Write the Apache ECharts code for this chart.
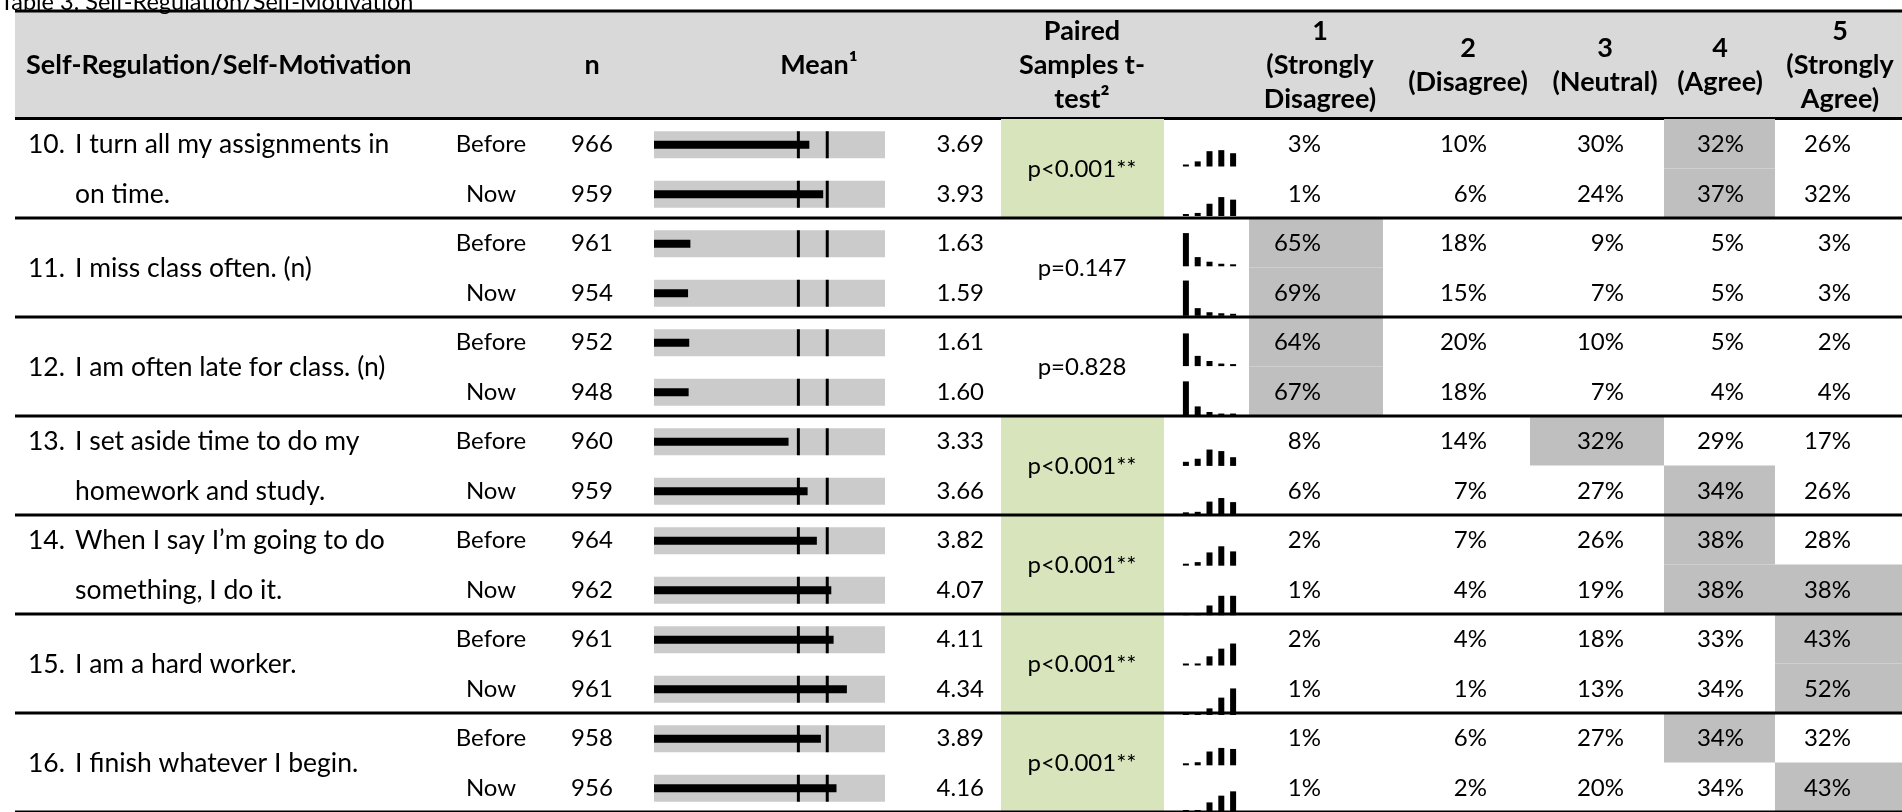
<!DOCTYPE html>
<html><head><meta charset="utf-8">
<script src="https://cdn.jsdelivr.net/npm/echarts@6/dist/echarts.min.js"></script>
<style>html,body{margin:0;padding:0;background:#fff}#c{width:1902px;height:812px}</style>
</head><body><div id="c"></div><script>
// ---------------- data ----------------
const title = 'Table 3. Self-Regulation/Self-Motivation';
const headStatement = 'Self-Regulation/Self-Motivation';
const headN = 'n';
const headMean = 'Mean\u00B9';
const headTest = ['Paired', 'Samples t-', 'test\u00B2'];
const scaleLabels = [['1', '(Strongly', 'Disagree)'], ['2', '(Disagree)'], ['3', '(Neutral)'], ['4', '(Agree)'], ['5', '(Strongly', 'Agree)']];
const itemNumbers = ['10.', '11.', '12.', '13.', '14.', '15.', '16.'];
const statements = [
  ['I turn all my assignments in', 'on time.'],
  ['I miss class often. (n)'],
  ['I am often late for class. (n)'],
  ['I set aside time to do my', 'homework and study.'],
  ['When I say I\u2019m going to do', 'something, I do it.'],
  ['I am a hard worker.'],
  ['I finish whatever I begin.']
];
const periods = ['Before', 'Now'];
const nBefore = [966, 961, 952, 960, 964, 961, 958];
const nNow = [959, 954, 948, 959, 962, 961, 956];
const meanBefore = [3.69, 1.63, 1.61, 3.33, 3.82, 4.11, 3.89];
const meanNow = [3.93, 1.59, 1.60, 3.66, 4.07, 4.34, 4.16];
const pValues = ['p<0.001**', 'p=0.147', 'p=0.828', 'p<0.001**', 'p<0.001**', 'p<0.001**', 'p<0.001**'];
const pctBefore = [[3, 10, 30, 32, 26], [65, 18, 9, 5, 3], [64, 20, 10, 5, 2], [8, 14, 32, 29, 17], [2, 7, 26, 38, 28], [2, 4, 18, 33, 43], [1, 6, 27, 34, 32]];
const pctNow = [[1, 6, 24, 37, 32], [69, 15, 7, 5, 3], [67, 18, 7, 4, 4], [6, 7, 27, 34, 26], [1, 4, 19, 38, 38], [1, 1, 13, 34, 52], [1, 2, 20, 34, 43]];
const refLines = [3.5, 4.0];
const meanScale = [1, 5];

// ---------------- layout / style ----------------
const FONT = 'Lato';
const FS = 24, FS_STMT = 26.5, FS_HEAD = 27;
const TOP = 119, ROW_H = 99.8, SUB_H = ROW_H / 2, N_SUB = 14;
const X = { left: 15, num: 28, text: 75, period: 491, n: 592, meanRight: 984, pLeft: 1001, pRight: 1164, pCenter: 1082 };
const pctEdges = [1249, 1383, 1530, 1664, 1775, 1902];
const pctRight = [1321, 1487, 1624, 1744, 1851];
const GREEN = '#d8e4bc', HILITE = '#bfbfbf', HEAD = '#d9d9d9', BARBG = '#cbcbcb';
const txt = (text, x, y, align, size) => ({ type: 'text', x, y, style: { text, fill: '#000', font: (size || FS) + 'px ' + FONT, textAlign: align || 'left', textVerticalAlign: 'middle' } });

const slots = Array.from({ length: N_SUB }, (_, i) => String(i));

// ---------------- grids ----------------
const grids = [
  { left: 0, right: 0, top: TOP, height: N_SUB * SUB_H },
  { left: 654, width: 231, top: TOP, height: N_SUB * SUB_H }
];
const xAxes = [
  { gridIndex: 0, type: 'value', min: 0, max: 1902, show: false },
  { gridIndex: 1, type: 'value', min: meanScale[0], max: meanScale[1], show: false }
];
const yAxes = [
  { gridIndex: 0, type: 'category', data: slots, inverse: true, show: false },
  { gridIndex: 1, type: 'category', data: slots, inverse: true, show: false }
];
const series = [];

// rows: p-value cell + statement
series.push({
  type: 'custom', xAxisIndex: 0, yAxisIndex: 0, z: 2,
  data: itemNumbers.map((_, r) => [0, 2 * r]),
  renderItem: (params, api) => {
    const r = params.dataIndex;
    const c = api.coord([0, api.value(1)]);
    const bh = api.size([0, 1])[1];
    const top = c[1] - bh / 2;
    const xp = v => api.coord([v, 0])[0];
    const ch = [];
    if (pValues[r].indexOf('**') >= 0) {
      ch.push({ type: 'rect', shape: { x: xp(X.pLeft), y: top, width: xp(X.pRight) - xp(X.pLeft), height: 2 * bh }, style: { fill: GREEN } });
    }
    ch.push(txt(pValues[r], xp(X.pCenter), top + bh + 1, 'center'));
    const lines = statements[r];
    if (lines.length === 1) {
      ch.push(txt(itemNumbers[r], xp(X.num), top + bh + 1, 'left', FS_STMT));
      ch.push(txt(lines[0], xp(X.text), top + bh + 1, 'left', FS_STMT));
    } else {
      ch.push(txt(itemNumbers[r], xp(X.num), top + bh / 2 + 1, 'left', FS_STMT));
      ch.push(txt(lines[0], xp(X.text), top + bh / 2 + 1, 'left', FS_STMT));
      ch.push(txt(lines[1], xp(X.text), top + 1.5 * bh + 1, 'left', FS_STMT));
    }
    return { type: 'group', children: ch };
  }
});

// sub-rows: period, n, mean value, percentages
series.push({
  type: 'custom', xAxisIndex: 0, yAxisIndex: 0, z: 3,
  data: slots.map((s, k) => [0, k]),
  renderItem: (params, api) => {
    const k = params.dataIndex, r = k >> 1, s = k & 1;
    const c = api.coord([0, api.value(1)]);
    const bh = api.size([0, 1])[1];
    const yc = c[1] + 1;
    const xp = v => api.coord([v, 0])[0];
    const pct = s ? pctNow[r] : pctBefore[r];
    const mx = Math.max.apply(null, pct);
    const ch = [];
    pct.forEach((v, j) => {
      if (v === mx) ch.push({ type: 'rect', shape: { x: xp(pctEdges[j]), y: c[1] - bh / 2, width: xp(pctEdges[j + 1]) - xp(pctEdges[j]), height: bh }, style: { fill: HILITE } });
    });
    pct.forEach((v, j) => ch.push(txt(v + '%', xp(pctRight[j]), yc, 'right')));
    ch.push(txt(periods[s], xp(X.period), yc, 'center'));
    ch.push(txt(String(s ? nNow[r] : nBefore[r]), xp(X.n), yc, 'center'));
    ch.push(txt((s ? meanNow[r] : meanBefore[r]).toFixed(2), xp(X.meanRight), yc, 'right'));
    return { type: 'group', children: ch };
  }
});

// row borders
series.push({
  type: 'custom', xAxisIndex: 0, yAxisIndex: 0, z: 10,
  data: itemNumbers.map((_, r) => [0, 2 * r + 1]),
  renderItem: (params, api) => {
    const c = api.coord([0, api.value(1)]);
    const bh = api.size([0, 1])[1];
    const y = c[1] + bh / 2;
    return { type: 'line', shape: { x1: api.coord([X.left, 0])[0], y1: y, x2: api.coord([1902, 0])[0], y2: y }, style: { stroke: '#000', lineWidth: 3 } };
  }
});

// mean bars
series.push({
  type: 'custom', xAxisIndex: 1, yAxisIndex: 1, z: 4,
  data: slots.map((s, k) => [(k & 1) ? meanNow[k >> 1] : meanBefore[k >> 1], k]),
  renderItem: (params, api) => {
    const c = api.coord([api.value(0), api.value(1)]);
    const x0 = api.coord([meanScale[0], api.value(1)])[0];
    const x1 = api.coord([meanScale[1], api.value(1)])[0];
    const yc = c[1] + 1;
    const H = 27, h = 8;
    const ch = [
      { type: 'rect', shape: { x: x0, y: yc - H / 2, width: x1 - x0, height: H }, style: { fill: BARBG } },
      { type: 'rect', shape: { x: x0, y: yc - h / 2, width: c[0] - x0, height: h }, style: { fill: '#000' } }
    ];
    refLines.forEach(v => {
      const xr = api.coord([v, api.value(1)])[0];
      ch.push({ type: 'rect', shape: { x: xr - 1.5, y: yc - H / 2, width: 3, height: H }, style: { fill: '#000' } });
    });
    return { type: 'group', children: ch };
  }
});

// sparklines
const SP_H = 47, SP_MAX = 92;
for (let k = 0; k < N_SUB; k++) {
  const r = k >> 1, s = k & 1;
  const base = TOP + r * ROW_H + (s ? 97 : 47.5);
  const gi = grids.length;
  grids.push({ left: 1180, width: 59, top: base - SP_H, height: SP_H });
  xAxes.push({ gridIndex: gi, type: 'category', data: scaleLabels.map(l => l[0]), show: false });
  yAxes.push({ gridIndex: gi, type: 'value', min: 0, max: SP_MAX, show: false });
  series.push({
    type: 'bar', xAxisIndex: gi, yAxisIndex: gi, data: s ? pctNow[r] : pctBefore[r],
    barWidth: 6, barMinHeight: 2, itemStyle: { color: '#000' }, silent: true, animation: false
  });
}

// header graphics
const hText = (text, x, align, lh) => ({ type: 'text', x, y: 65, style: { text, font: 'bold ' + FS_HEAD + 'px ' + FONT, lineHeight: lh || 34, fill: '#000', textAlign: align, textVerticalAlign: 'middle' }, z: 2 });
const graphic = [
  { type: 'rect', shape: { x: X.left, y: 11, width: 1902 - X.left, height: 108 }, style: { fill: HEAD }, z: 0 },
  { type: 'text', x: 0, y: 14, style: { text: title, font: '23.5px ' + FONT, fill: '#000', textAlign: 'left', textVerticalAlign: 'bottom' }, z: 0 },
  { type: 'line', shape: { x1: X.left, y1: 11, x2: 1902, y2: 11 }, style: { stroke: '#000', lineWidth: 3 }, z: 1 },
  { type: 'line', shape: { x1: X.left, y1: 118.5, x2: 1902, y2: 118.5 }, style: { stroke: '#000', lineWidth: 3 }, z: 1 },
  hText(headStatement, 26, 'left'),
  hText(headN, X.n, 'center'),
  hText(headMean, 819, 'center'),
  hText(headTest.join('\n'), X.pCenter, 'center')
];
const headCenters = [1320, 1468, 1605, 1720, 1840];
scaleLabels.forEach((l, j) => graphic.push(hText(l.join('\n'), headCenters[j], 'center')));

const chart = echarts.init(document.getElementById('c'), null, { renderer: 'canvas' });
chart.setOption({ animation: false, backgroundColor: '#fff', grid: grids, xAxis: xAxes, yAxis: yAxes, series, graphic });
</script></body></html>
